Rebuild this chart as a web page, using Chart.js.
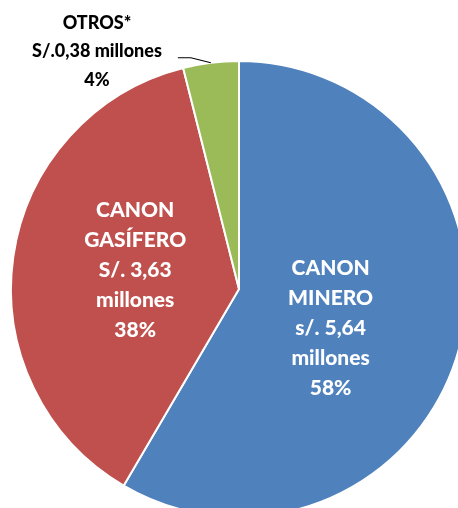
<!DOCTYPE html>
<html>
<head>
<meta charset="utf-8">
<script src="https://cdn.jsdelivr.net/npm/chart.js@4.4.0/dist/chart.umd.min.js"></script>
<style>
  html, body { margin: 0; padding: 0; background: #fff; overflow: hidden; }
  #grafico { display: block; }
</style>
</head>
<body>
<canvas id="grafico" width="478" height="578"></canvas>
<script>
// datos del gráfico
const categorias = ['CANON MINERO', 'CANON GASÍFERO', 'OTROS*'];
const lineasNombre = [['CANON', 'MINERO'], ['CANON', 'GASÍFERO'], ['OTROS*']];
const montos = ['s/. 5,64', 'S/. 3,63', 'S/.0,38'];
const valores = [5.64, 3.63, 0.38];
const colores = ['#4F81BD', '#C0504D', '#9BBB59'];

const total = valores.reduce((a, b) => a + b, 0);
const porcentajes = valores.map(v => Math.round(v / total * 100) + '%');

const FUENTE = 'Lato, "Open Sans", sans-serif';

// etiquetas dentro / fuera de las porciones
const pluginEtiquetas = {
  id: 'etiquetas',
  afterDatasetsDraw(chart) {
    const ctx = chart.ctx;
    const arcos = chart.getDatasetMeta(0).data;
    ctx.save();
    ctx.textAlign = 'center';
    ctx.textBaseline = 'middle';

    arcos.forEach((arco, i) => {
      const mid = (arco.startAngle + arco.endAngle) / 2;
      const r = arco.outerRadius;

      if (i < 2) {
        const factor = i === 0 ? 0.43 : 0.46;
        const ajusteY = i === 0 ? 14 : -4;
        const cx = arco.x + Math.cos(mid) * r * factor - (i === 0 ? 3 : 0);
        const cy = arco.y + Math.sin(mid) * r * factor + ajusteY;
        const lineas = [...lineasNombre[i], montos[i], 'millones', porcentajes[i]];
        ctx.fillStyle = '#ffffff';
        ctx.font = '900 21px ' + FUENTE;
        const alto = 30;
        lineas.forEach((t, k) => {
          ctx.fillText(t, cx, cy + (k - (lineas.length - 1) / 2) * alto);
        });
      } else {
        // línea guía hacia la etiqueta exterior
        const px = arco.x + Math.cos(mid) * r;
        const py = arco.y + Math.sin(mid) * r;
        ctx.strokeStyle = '#000000';
        ctx.lineWidth = 1.2;
        ctx.beginPath();
        ctx.moveTo(px, py);
        ctx.lineTo(px - 20, py - 5);
        ctx.lineTo(px - 33, py - 5);
        ctx.stroke();

        const lineas = [lineasNombre[i][0], montos[i] + ' millones', porcentajes[i]];
        ctx.fillStyle = '#000000';
        ctx.font = '900 18px ' + FUENTE;
        const cx = 97;
        const cy0 = 23;
        lineas.forEach((t, k) => ctx.fillText(t, cx, cy0 + k * 28.5));
      }
    });
    ctx.restore();
  }
};

new Chart(document.getElementById('grafico'), {
  type: 'pie',
  data: {
    labels: categorias,
    datasets: [{
      data: valores,
      backgroundColor: colores,
      borderColor: '#ffffff',
      borderWidth: 2
    }]
  },
  options: {
    responsive: false,
    animation: false,
    devicePixelRatio: 1,
    layout: { padding: { left: 10, right: 10, top: 60, bottom: 60 } },
    plugins: {
      legend: { display: false },
      tooltip: { enabled: false }
    }
  },
  plugins: [pluginEtiquetas]
});
</script>
</body>
</html>
